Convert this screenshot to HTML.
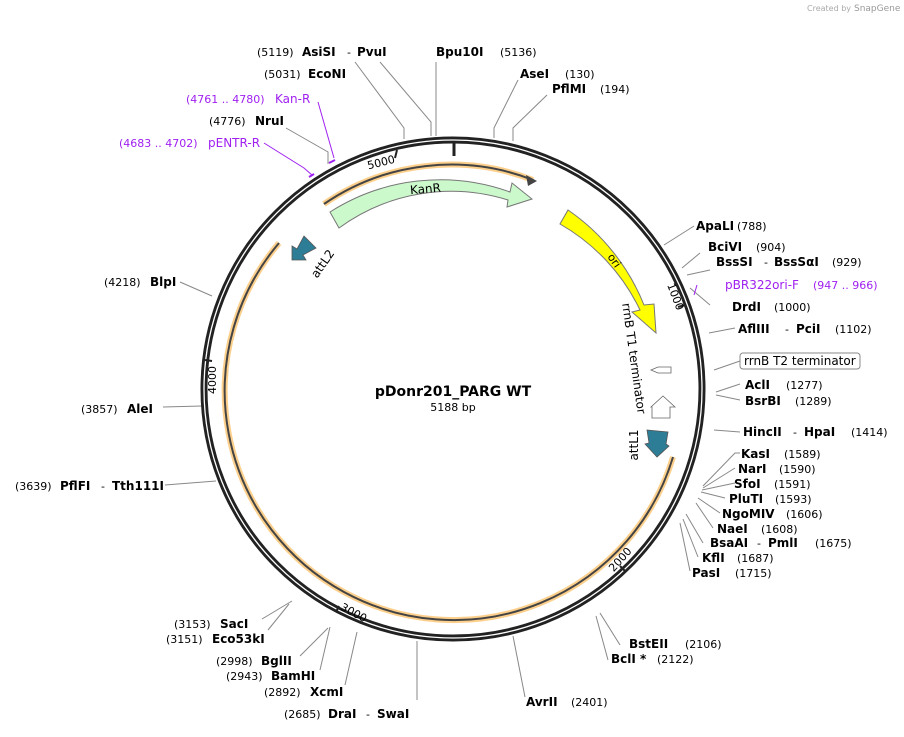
<!DOCTYPE html>
<html><head><meta charset="utf-8"><style>
body{margin:0;background:#fff;}
svg text{font-family:"DejaVu Sans","Liberation Sans",sans-serif;}
.b{font-weight:bold;font-size:12px;fill:#000}
.n{font-size:11px;fill:#000}
.p{font-size:12px;fill:#a020f0}
.pn{font-size:11px;fill:#a020f0}
.l{stroke:#888;stroke-width:1;fill:none}
</style></head><body>
<svg width="904" height="732" xmlns="http://www.w3.org/2000/svg">
<text x="807" y="11" font-size="8" fill="#aaa">Created by</text><text x="854" y="11" font-size="9" fill="#999">SnapGene</text>
<g class="l">
<polyline points="404,139 404,128 355,62"/>
<polyline points="431,136 431,122 380,62"/>
<polyline points="436,136 436,62"/>
<polyline points="494,138 494,128 518,80"/>
<polyline points="513,141 513,128 547,95"/>
<polyline points="664,245 694,226"/>
<polyline points="682,268 700,253"/>
<polyline points="687,275 710,270"/>
<polyline points="690,288 710,305"/>
<polyline points="709,333 735,328"/>
<polyline points="714,370 740,361"/>
<polyline points="716,392 740,384"/>
<polyline points="716,395 740,400"/>
<polyline points="714,430 740,432"/>
<polyline points="703,486 735,453 740,453"/>
<polyline points="703,488 735,468"/>
<polyline points="702,490 735,483"/>
<polyline points="701,492 725,498"/>
<polyline points="698,498 720,513"/>
<polyline points="696,503 713,528"/>
<polyline points="686,514 703,543"/>
<polyline points="683,519 698,557"/>
<polyline points="680,523 690,571"/>
<polyline points="600,613 620,645"/>
<polyline points="596,616 608,660"/>
<polyline points="513,636 525,697"/>
<polyline points="417,641 417,700"/>
<polyline points="357,632 345,685"/>
<polyline points="330,627 320,670"/>
<polyline points="328,628 300,656"/>
<polyline points="292,601 262,619"/>
<polyline points="289,604 268,630"/>
<polyline points="212,296 180,282"/>
<polyline points="202,406 163,407"/>
<polyline points="216,481 165,485"/>
<polyline points="328,164 328,152 286,128"/>
</g>
<g stroke="#a020f0" stroke-width="1" fill="none">
<polyline points="334,158 318,102"/>
<polyline points="312,175 304,168 264,143"/>
<polyline points="697,285 694,295"/>
</g>
<circle cx="453" cy="389" r="249" fill="none" stroke="#222" stroke-width="7"/>
<circle cx="453" cy="389" r="249" fill="none" stroke="#fff" stroke-width="1.3"/>
<line x1="454" y1="141" x2="454" y2="156" stroke="#222" stroke-width="3"/>
<g stroke="#a020f0" stroke-width="2"><line x1="329" y1="163" x2="335" y2="160"/><line x1="309" y1="177" x2="314" y2="174"/></g>
<g stroke="#222" stroke-width="2">
<line x1="397" y1="150" x2="395" y2="158"/>
<line x1="685" y1="305" x2="678" y2="307"/>
<line x1="625" y1="571" x2="620" y2="566"/>
<line x1="336" y1="612" x2="339" y2="606"/>
<line x1="205" y1="360" x2="212" y2="361"/>
</g>
<g font-size="11" fill="#000" text-anchor="middle">
<text transform="translate(382,166) rotate(-14)">5000</text>
<text transform="translate(672,298) rotate(69)">1000</text>
<text transform="translate(623,562) rotate(-48)">2000</text>
<text transform="translate(352,616) rotate(28)">3000</text>
<text transform="translate(216,380) rotate(-90)">4000</text>
</g>
<g fill="none">
<path d="M324,204 A225,225 0 0 1 533,180" stroke="#fcd08c" stroke-width="6"/>
<path d="M324,204 A225,225 0 0 1 533,180" stroke="#444" stroke-width="2"/>
<path d="M673,457 A229,229 0 1 1 279,243" stroke="#fcd08c" stroke-width="6"/>
<path d="M673,457 A229,229 0 1 1 279,243" stroke="#444" stroke-width="2"/>
</g>
<polygon points="537,181 526,175 528,186" fill="#444"/>
<path d="M330,212 A205,205 0 0 1 510,192 L512,183 L532,199 L507,207 L508,200 A190,190 0 0 0 339,228 Z" fill="#ccf9cc" stroke="#777" stroke-width="1"/>
<text x="410" y="193" font-size="12" transform="rotate(-5 425 190)">KanR</text>
<path d="M568,210 A210,210 0 0 1 644,305 L654,304 L656,333 L632,312 L640,310 A197,197 0 0 0 560,224 Z" fill="#ffff00" stroke="#777" stroke-width="1"/>
<text x="605" y="263" font-size="11" transform="rotate(55 612 262)">ori</text>
<polygon points="292,260 292,246 297,249 304,236 316,248 303,255 306,260" fill="#2e7d96" stroke="#555" stroke-width="0.8"/>
<text font-size="12" text-anchor="middle" transform="translate(326,266) rotate(-55)">attL2</text>
<polygon points="647,430 668,432 666,444 669,446 657,457 645,444 649,443" fill="#2e7d96" stroke="#555" stroke-width="0.8"/>
<text font-size="12" text-anchor="middle" transform="translate(638,445) rotate(-90)">attL1</text>
<polygon points="651,370 658,367 671,367 671,373 658,373" fill="#fff" stroke="#666" stroke-width="0.8"/>
<polygon points="652,418 652,407 651,407 663,396 675,407 670,407 670,418" fill="#fff" stroke="#666" stroke-width="0.8"/>
<text x="614" y="307" font-size="12" transform="rotate(82 620 310)">rrnB T1 terminator</text>
<text x="453" y="396" text-anchor="middle" font-weight="bold" font-size="14">pDonr201_PARG WT</text>
<text x="453" y="411" text-anchor="middle" font-size="11">5188 bp</text>
<text x="257" y="56" class="n">(5119)</text><text x="302" y="56" class="b">AsiSI</text><text x="347" y="56" class="n">-</text><text x="357" y="56" class="b">PvuI</text>
<text x="436" y="56" class="b">Bpu10I</text><text x="500" y="56" class="n">(5136)</text>
<text x="264" y="78" class="n">(5031)</text><text x="308" y="78" class="b">EcoNI</text>
<text x="520" y="78" class="b">AseI</text><text x="565" y="78" class="n">(130)</text>
<text x="552" y="93" class="b">PflMI</text><text x="600" y="93" class="n">(194)</text>
<text x="186" y="103" class="pn">(4761 .. 4780)</text><text x="275" y="103" class="p">Kan-R</text>
<text x="209" y="125" class="n">(4776)</text><text x="255" y="125" class="b">NruI</text>
<text x="119" y="147" class="pn">(4683 .. 4702)</text><text x="208" y="147" class="p">pENTR-R</text>
<text x="696" y="230" class="b">ApaLI</text><text x="737" y="230" class="n">(788)</text>
<text x="708" y="251" class="b">BciVI</text><text x="756" y="251" class="n">(904)</text>
<text x="716" y="266" class="b">BssSI</text><text x="764" y="266" class="n">-</text><text x="774" y="266" class="b">BssSαI</text><text x="832" y="266" class="n">(929)</text>
<text x="725" y="289" class="p">pBR322ori-F</text><text x="813" y="289" class="pn">(947 .. 966)</text>
<text x="732" y="311" class="b">DrdI</text><text x="774" y="311" class="n">(1000)</text>
<text x="738" y="333" class="b">AflIII</text><text x="785" y="333" class="n">-</text><text x="796" y="333" class="b">PciI</text><text x="835" y="333" class="n">(1102)</text>
<rect x="740" y="353" width="120" height="16" rx="3" fill="#fff" stroke="#888"/>
<text x="744" y="365" font-size="12">rrnB T2 terminator</text>
<text x="745" y="389" class="b">AclI</text><text x="786" y="389" class="n">(1277)</text>
<text x="745" y="405" class="b">BsrBI</text><text x="795" y="405" class="n">(1289)</text>
<text x="743" y="436" class="b">HincII</text><text x="793" y="436" class="n">-</text><text x="804" y="436" class="b">HpaI</text><text x="851" y="436" class="n">(1414)</text>
<text x="741" y="458" class="b">KasI</text><text x="784" y="458" class="n">(1589)</text>
<text x="738" y="473" class="b">NarI</text><text x="779" y="473" class="n">(1590)</text>
<text x="734" y="488" class="b">SfoI</text><text x="774" y="488" class="n">(1591)</text>
<text x="729" y="503" class="b">PluTI</text><text x="775" y="503" class="n">(1593)</text>
<text x="722" y="518" class="b">NgoMIV</text><text x="786" y="518" class="n">(1606)</text>
<text x="717" y="533" class="b">NaeI</text><text x="761" y="533" class="n">(1608)</text>
<text x="710" y="547" class="b">BsaAI</text><text x="757" y="547" class="n">-</text><text x="768" y="547" class="b">PmlI</text><text x="815" y="547" class="n">(1675)</text>
<text x="702" y="562" class="b">KflI</text><text x="737" y="562" class="n">(1687)</text>
<text x="692" y="577" class="b">PasI</text><text x="735" y="577" class="n">(1715)</text>
<text x="629" y="648" class="b">BstEII</text><text x="685" y="648" class="n">(2106)</text>
<text x="611" y="663" class="b">BclI *</text><text x="657" y="663" class="n">(2122)</text>
<text x="526" y="706" class="b">AvrII</text><text x="571" y="706" class="n">(2401)</text>
<text x="284" y="718" class="n">(2685)</text><text x="328" y="718" class="b">DraI</text><text x="366" y="718" class="n">-</text><text x="377" y="718" class="b">SwaI</text>
<text x="264" y="696" class="n">(2892)</text><text x="310" y="696" class="b">XcmI</text>
<text x="226" y="680" class="n">(2943)</text><text x="271" y="680" class="b">BamHI</text>
<text x="216" y="665" class="n">(2998)</text><text x="261" y="665" class="b">BglII</text>
<text x="174" y="628" class="n">(3153)</text><text x="220" y="628" class="b">SacI</text>
<text x="166" y="643" class="n">(3151)</text><text x="212" y="643" class="b">Eco53kI</text>
<text x="104" y="286" class="n">(4218)</text><text x="150" y="286" class="b">BlpI</text>
<text x="81" y="413" class="n">(3857)</text><text x="127" y="413" class="b">AleI</text>
<text x="15" y="490" class="n">(3639)</text><text x="60" y="490" class="b">PflFI</text><text x="101" y="490" class="n">-</text><text x="112" y="490" class="b">Tth111I</text>
</svg>
</body></html>
